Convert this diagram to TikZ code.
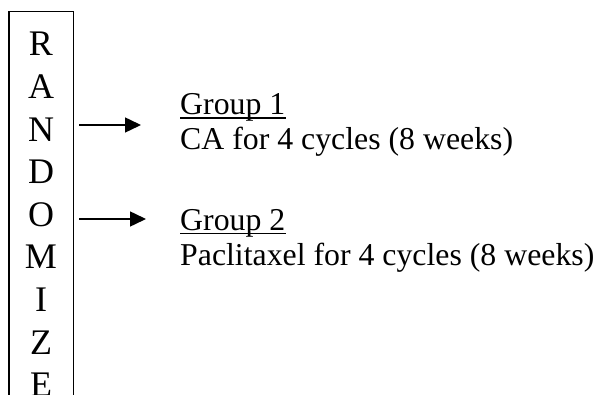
\documentclass[tikz,border=0pt]{standalone}
\usepackage{fontspec}
\setmainfont{Liberation Serif}
\usetikzlibrary{arrows.meta}
\tikzset{
  letter/.style={anchor=base, inner sep=0pt, font=\fontsize{36}{36}\selectfont},
  label/.style={anchor=base west, inner sep=0pt, font=\fontsize{31.8}{32}\selectfont},
  arr/.style={line width=1.5pt, -{Triangle[length=16pt,width=15pt]}},
  uline/.style={line width=1.4pt}
}
\begin{document}
\begin{tikzpicture}[x=1pt,y=-1pt]
\useasboundingbox (0,0) rectangle (597,395);
\clip (0,0) rectangle (597,395);
\node[draw, line width=1.5pt, inner sep=0pt, minimum width=64.5pt, minimum height=400pt, anchor=north west] (box) at (8,11) {};
\node[letter] (l1) at (41,56) {R};
\node[letter] (l2) at (41,98.6) {A};
\node[letter] (l3) at (41,141.2) {N};
\node[letter] (l4) at (41,183.8) {D};
\node[letter] (l5) at (41,226.4) {O};
\node[letter] (l6) at (41,269) {M};
\node[letter] (l7) at (41,311.6) {I};
\node[letter] (l8) at (41,354.2) {Z};
\node[letter] (l9) at (41,396.8) {E};
\node[label] (g1) at (180,115) {Group 1};
\node[label] (t1) at (180,150) {CA for 4 cycles (8 weeks)};
\node[label] (g2) at (180,230.5) {Group 2};
\node[label] (t2) at (180,266) {Paclitaxel for 4 cycles (8 weeks)};
\draw[uline] ([yshift=-3pt]g1.base west) -- ([yshift=-3pt]g1.base east);
\draw[uline] ([yshift=-3pt]g2.base west) -- ([yshift=-3pt]g2.base east);
\coordinate (a1s) at (79,125);
\coordinate (a1e) at (141,125);
\coordinate (a2s) at (79,219);
\coordinate (a2e) at (146,219);
\draw[arr] (a1s) -- (a1e);
\draw[arr] (a2s) -- (a2e);
\end{tikzpicture}
\end{document}
